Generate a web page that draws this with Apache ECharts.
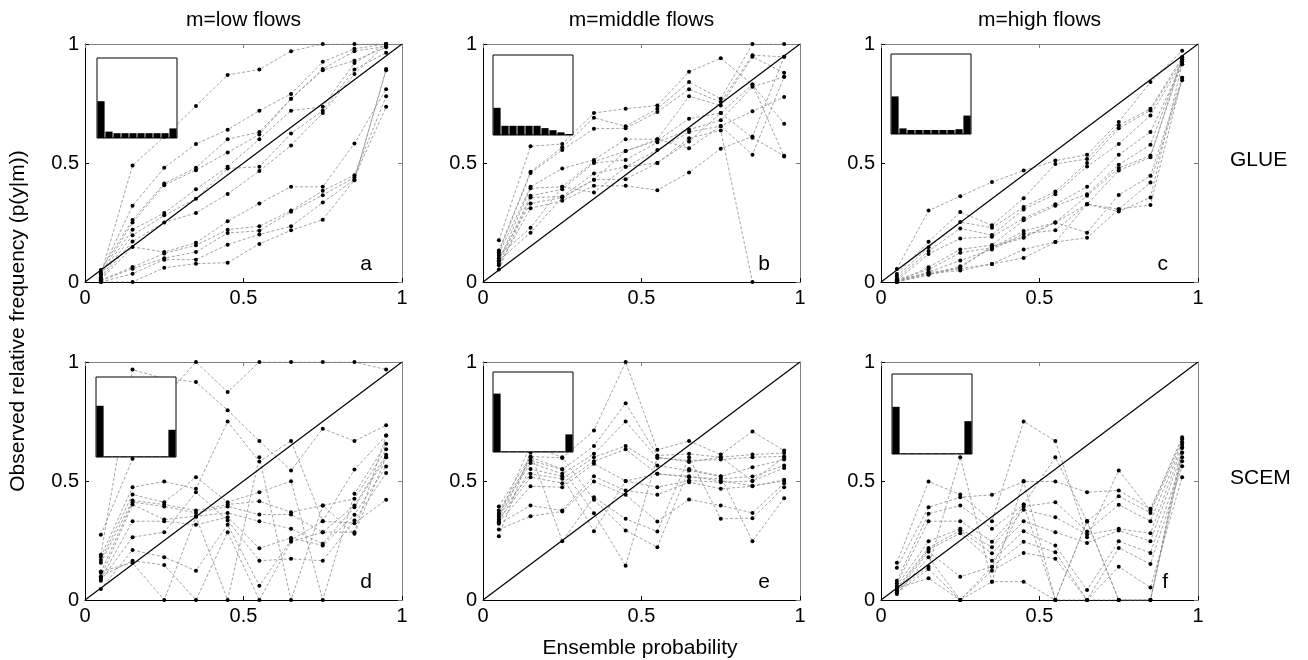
<!DOCTYPE html>
<html>
<head>
<meta charset="utf-8">
<script src="https://cdn.jsdelivr.net/npm/echarts@6/dist/echarts.min.js"></script>
<style>
  html, body { margin: 0; background: #fff; }
  #chart { width: 1308px; height: 660px; }
</style>
</head>
<body>
<div id="chart"></div>
<script>
// ensemble probability bins (x of every reliability point)
const PROB = [0.05, 0.15, 0.25, 0.35, 0.45, 0.55, 0.65, 0.75, 0.85, 0.95];

// observed relative frequency, one row per line
const glueLow = [
  [0.03, 0.49, 0.61, 0.74, 0.87, 0.893, 0.97, 1.0, 1.0, 1.0],
  [0.04, 0.32, 0.48, 0.58, 0.64, 0.72, 0.79, 0.925, 0.98, 1.0],
  [0.05, 0.26, 0.414, 0.48, 0.60, 0.63, 0.77, 0.895, 0.97, 0.99],
  [0.035, 0.25, 0.407, 0.47, 0.544, 0.62, 0.77, 0.89, 0.93, 0.986],
  [0.03, 0.22, 0.29, 0.39, 0.484, 0.60, 0.72, 0.736, 0.92, 1.0],
  [0.02, 0.196, 0.28, 0.35, 0.477, 0.484, 0.624, 0.72, 0.893, 0.963],
  [0.015, 0.17, 0.25, 0.29, 0.37, 0.466, 0.574, 0.71, 0.874, 1.0],
  [0.01, 0.147, 0.126, 0.165, 0.255, 0.33, 0.40, 0.40, 0.582, 0.81],
  [0.007, 0.063, 0.12, 0.154, 0.22, 0.234, 0.30, 0.383, 0.449, 0.78],
  [0.005, 0.056, 0.10, 0.126, 0.206, 0.215, 0.295, 0.365, 0.44, 0.736],
  [0.0, 0.035, 0.094, 0.094, 0.157, 0.2, 0.234, 0.334, 0.43, 0.89],
  [0.0, 0.0, 0.06, 0.077, 0.081, 0.16, 0.217, 0.262, 0.428, 0.895]
];

const glueMid = [
  [0.175, 0.57, 0.58, 0.71, 0.728, 0.742, 0.883, 0.94, 0.83, 0.665],
  [0.132, 0.463, 0.566, 0.69, 0.654, 0.728, 0.84, 0.77, 1.0, 1.0],
  [0.125, 0.458, 0.555, 0.644, 0.646, 0.714, 0.81, 0.756, 0.953, 0.946],
  [0.118, 0.40, 0.477, 0.513, 0.60, 0.60, 0.78, 0.742, 0.946, 0.879],
  [0.087, 0.394, 0.40, 0.506, 0.55, 0.594, 0.686, 0.71, 0.83, 0.527],
  [0.077, 0.362, 0.39, 0.50, 0.513, 0.587, 0.64, 0.68, 0.82, 0.862],
  [0.052, 0.355, 0.359, 0.456, 0.484, 0.555, 0.63, 0.655, 0.717, 0.777],
  [0.10, 0.33, 0.355, 0.43, 0.432, 0.5, 0.604, 0.637, 0.0, null],
  [0.07, 0.31, 0.341, 0.404, 0.404, 0.386, 0.46, 0.56, 0.611, 0.946],
  [0.11, 0.228, 0.40, 0.376, 0.484, 0.5, 0.59, 0.71, 0.606, 0.53],
  [0.09, 0.207, 0.355, 0.43, 0.55, 0.60, 0.562, 0.655, 0.535, 0.862]
];

const glueHigh = [
  [0.055, 0.30, 0.36, 0.42, 0.468, 0.51, 0.535, 0.672, 0.84, 0.972],
  [0.034, 0.169, 0.294, 0.238, 0.352, 0.496, 0.517, 0.658, 0.728, 0.944],
  [0.024, 0.146, 0.252, 0.228, 0.315, 0.38, 0.5, 0.646, 0.721, 0.935],
  [0.014, 0.13, 0.225, 0.197, 0.305, 0.369, 0.485, 0.58, 0.70, 0.925],
  [0.006, 0.118, 0.183, 0.19, 0.268, 0.327, 0.40, 0.535, 0.63, 0.915],
  [0.0, 0.062, 0.137, 0.155, 0.259, 0.32, 0.369, 0.493, 0.577, 0.935],
  [0.01, 0.052, 0.123, 0.144, 0.214, 0.25, 0.362, 0.479, 0.531, 0.925],
  [0.004, 0.042, 0.09, 0.137, 0.203, 0.217, 0.327, 0.468, 0.524, 0.944],
  [0.002, 0.031, 0.066, 0.144, 0.186, 0.25, 0.207, 0.366, 0.446, 0.858],
  [0.0, 0.04, 0.056, 0.076, 0.137, 0.168, 0.186, 0.306, 0.418, 0.848],
  [0.008, 0.035, 0.048, 0.076, 0.101, 0.168, 0.327, 0.296, 0.355, 0.915],
  [0.0, 0.03, 0.06, 0.15, 0.19, 0.25, 0.327, 0.306, 0.324, 0.858]
];

const scemLow = [
  [0.19, 0.968, 0.93, 0.916, 0.797, 0.668, 0.544, 0.72, 0.668, 0.734],
  [0.274, 0.593, 0.85, 1.0, 0.874, 1.0, 1.0, 1.0, 1.0, 0.968],
  [0.182, 0.474, 0.498, 0.467, 0.75, 0.582, 0.668, 0.331, 0.548, 0.691],
  [0.168, 0.443, 0.411, 0.516, 0.411, 0.453, 0.499, 0.0, 0.446, 0.656],
  [0.156, 0.418, 0.401, 0.376, 0.401, 0.415, 0.369, 0.397, 0.425, 0.633],
  [0.116, 0.411, 0.393, 0.366, 0.393, 0.359, 0.359, 0.285, 0.397, 0.61],
  [0.095, 0.401, 0.338, 0.352, 0.366, 0.331, 0.299, 0.236, 0.39, 0.60],
  [0.088, 0.331, 0.331, 0.316, 0.348, 0.217, 0.261, 0.229, 0.358, 0.561],
  [0.081, 0.264, 0.285, 0.453, 0.334, 0.165, 0.173, 0.165, 0.334, 0.534],
  [0.046, 0.21, 0.18, 0.123, 0.316, 0.06, 0.252, 0.331, 0.323, 0.421],
  [0.10, 0.165, 0.147, 0.0, 0.285, 0.0, 0.245, 0.285, 0.285, 0.691],
  [0.12, 0.156, 0.0, 0.35, 0.0, 0.6, 0.0, 0.397, 0.278, 0.60]
];

const scemMid = [
  [0.393, 0.603, 0.597, 0.712, 1.0, 0.631, 0.668, 0.611, 0.708, 0.628],
  [0.376, 0.586, 0.548, 0.647, 0.827, 0.607, 0.614, 0.6, 0.611, 0.618],
  [0.366, 0.576, 0.53, 0.614, 0.75, 0.597, 0.586, 0.59, 0.6, 0.603],
  [0.358, 0.53, 0.509, 0.6, 0.647, 0.565, 0.544, 0.519, 0.558, 0.59],
  [0.337, 0.516, 0.491, 0.583, 0.633, 0.53, 0.516, 0.509, 0.519, 0.565],
  [0.327, 0.478, 0.474, 0.572, 0.5, 0.474, 0.502, 0.495, 0.5, 0.555],
  [0.32, 0.397, 0.376, 0.52, 0.46, 0.442, 0.495, 0.467, 0.478, 0.505],
  [0.296, 0.352, 0.372, 0.498, 0.442, 0.33, 0.422, 0.397, 0.366, 0.491],
  [0.268, 0.62, 0.247, 0.432, 0.341, 0.288, 0.6, 0.341, 0.344, 0.474],
  [0.35, 0.65, 0.6, 0.421, 0.292, 0.222, 0.55, 0.52, 0.247, 0.428],
  [0.34, 0.6, 0.55, 0.365, 0.144, 0.6, 0.58, 0.6, 0.5, 0.6],
  [0.33, 0.55, 0.52, 0.289, 0.5, 0.53, 0.52, 0.5, 0.48, 0.5]
];

const scemHigh = [
  [0.156, 0.498, 0.443, 0.331, 0.75, 0.668, 0.264, 0.544, 0.376, 0.684],
  [0.135, 0.39, 0.432, 0.442, 0.498, 0.498, 0.453, 0.46, 0.383, 0.675],
  [0.081, 0.362, 0.397, 0.299, 0.401, 0.6, 0.331, 0.436, 0.366, 0.663],
  [0.07, 0.331, 0.331, 0.245, 0.393, 0.411, 0.288, 0.4, 0.331, 0.652],
  [0.06, 0.247, 0.299, 0.222, 0.379, 0.348, 0.275, 0.299, 0.28, 0.64],
  [0.05, 0.219, 0.292, 0.196, 0.331, 0.285, 0.24, 0.292, 0.247, 0.619],
  [0.042, 0.212, 0.28, 0.165, 0.289, 0.229, 0.042, 0.247, 0.198, 0.583],
  [0.032, 0.203, 0.098, 0.14, 0.245, 0.201, 0.0, 0.219, 0.151, 0.562],
  [0.025, 0.18, 0.0, 0.123, 0.198, 0.173, 0.0, 0.14, 0.053, 0.516],
  [0.04, 0.14, 0.6, 0.077, 0.077, 0.0, 0.331, 0.0, 0.0, 0.64],
  [0.03, 0.13, 0.0, 0.077, 0.5, 0.0, 0.331, 0.0, 0.0, 0.60],
  [0.05, 0.091, 0.0, 0.14, 0.401, 0.0, 0.0, 0.0, 0.0, 0.62]
];

// inset rank histograms (bar height as fraction of the inset box)
const histA = [0.46, 0.08, 0.06, 0.06, 0.06, 0.06, 0.06, 0.06, 0.06, 0.12];
const histB = [0.34, 0.115, 0.115, 0.115, 0.115, 0.115, 0.086, 0.06, 0.033, 0.012];
const histC = [0.47, 0.07, 0.05, 0.05, 0.05, 0.05, 0.05, 0.05, 0.06, 0.23];
const histD = [0.64, 0.008, 0.008, 0.008, 0.008, 0.008, 0.008, 0.008, 0.008, 0.34];
const histE = [0.73, 0.008, 0.008, 0.008, 0.008, 0.008, 0.008, 0.008, 0.008, 0.22];
const histF = [0.59, 0.008, 0.008, 0.008, 0.008, 0.008, 0.008, 0.008, 0.008, 0.41];

const colTitles = ['m=low flows', 'm=middle flows', 'm=high flows'];
const rowNames = ['GLUE', 'SCEM'];
const panelLetters = ['a', 'b', 'c', 'd', 'e', 'f'];

const panels = [glueLow, glueMid, glueHigh, scemLow, scemMid, scemHigh];
const hists = [histA, histB, histC, histD, histE, histF];

// layout (pixels)
const FONT = 'Liberation Sans, Arial, sans-serif';
const FS = 21;
const COL_LEFT = [85, 483, 881];
const ROW_TOP = [44, 362];
const PW = 317, PH = 238;
const INSET = [[12, 14], [10, 11], [10, 10], [11, 15], [10, 10], [11, 12]];
const INSET_SIZE = 80;

const grid = [], xAxis = [], yAxis = [], series = [], graphic = [];

function frameAxis(gi, pos, main) {
  const col = main ? '#000' : '#808080';
  return {
    gridIndex: gi, type: 'value', min: 0, max: 1, interval: 0.5, position: pos,
    axisLine: { show: true, onZero: false, lineStyle: { color: col, width: 1 } },
    axisTick: { show: true, inside: true, length: 4, lineStyle: { color: col, width: 1 } },
    axisLabel: {
      show: main, color: '#000', fontSize: 20, fontFamily: FONT, margin: 6,
      showMinLabel: true, showMaxLabel: true, hideOverlap: false
    },
    splitLine: { show: false }
  };
}

panels.forEach((lines, i) => {
  const left = COL_LEFT[i % 3], top = ROW_TOP[Math.floor(i / 3)];

  grid.push({ left, top, width: PW, height: PH, outerBoundsMode: 'none' });
  const gi = grid.length - 1;
  const xi = xAxis.length, yi = yAxis.length;
  xAxis.push(frameAxis(gi, 'bottom', true), frameAxis(gi, 'top', false));
  yAxis.push(frameAxis(gi, 'left', true), frameAxis(gi, 'right', false));

  lines.forEach(vals => {
    series.push({
      type: 'line', xAxisIndex: xi, yAxisIndex: yi,
      data: vals.map((v, k) => [PROB[k], v == null ? '-' : v]),
      symbol: 'circle', symbolSize: 4, showSymbol: true,
      itemStyle: { color: '#000' },
      lineStyle: { color: '#8c8c8c', width: 0.8, type: [3, 2] },
      silent: true, animation: false, z: 2
    });
  });

  // perfect reliability diagonal
  series.push({
    type: 'line', xAxisIndex: xi, yAxisIndex: yi,
    data: [[0, 0], [1, 1]], symbol: 'none',
    lineStyle: { color: '#000', width: 1.2 },
    silent: true, animation: false, z: 3
  });

  // inset histogram
  grid.push({
    left: left + INSET[i][0], top: top + INSET[i][1],
    width: INSET_SIZE, height: INSET_SIZE,
    show: true, backgroundColor: '#fff', borderColor: '#000', borderWidth: 1,
    z: 10, zlevel: 1, outerBoundsMode: 'none'
  });
  const hg = grid.length - 1;
  const hx = xAxis.length, hy = yAxis.length;
  xAxis.push({ gridIndex: hg, type: 'category', data: PROB.map(String), show: false, zlevel: 1 });
  yAxis.push({ gridIndex: hg, type: 'value', min: 0, max: 1, show: false, zlevel: 1 });
  series.push({
    type: 'bar', xAxisIndex: hx, yAxisIndex: hy, data: hists[i],
    barCategoryGap: '10%', itemStyle: { color: '#000' },
    silent: true, animation: false, zlevel: 1, z: 12
  });

  // panel letter
  graphic.push({
    type: 'text', x: left + PW - 30, y: top + PH - 7,
    style: { text: panelLetters[i], fontSize: FS, fontFamily: FONT, fill: '#000', align: 'right', verticalAlign: 'bottom' }
  });
});

colTitles.forEach((t, c) => {
  graphic.push({
    type: 'text', x: COL_LEFT[c] + PW / 2, y: 20,
    style: { text: t, fontSize: FS, fontFamily: FONT, fill: '#000', align: 'center', verticalAlign: 'middle' }
  });
});

rowNames.forEach((t, r) => {
  graphic.push({
    type: 'text', x: 1230, y: ROW_TOP[r] + PH / 2 - 3,
    style: { text: t, fontSize: FS, fontFamily: FONT, fill: '#000', align: 'left', verticalAlign: 'middle' }
  });
});

graphic.push({
  type: 'text', x: 640, y: 648,
  style: { text: 'Ensemble probability', fontSize: FS, fontFamily: FONT, fill: '#000', align: 'center', verticalAlign: 'middle' }
});
graphic.push({
  type: 'text', x: 18, y: 321, rotation: Math.PI / 2,
  style: { text: 'Observed relative frequency (p(y|m))', fontSize: FS, fontFamily: FONT, fill: '#000', align: 'center', verticalAlign: 'middle' }
});

const chart = echarts.init(document.getElementById('chart'), null, { renderer: 'canvas' });
chart.setOption({
  backgroundColor: '#fff',
  animation: false,
  grid, xAxis, yAxis, series, graphic
});
</script>
</body>
</html>
